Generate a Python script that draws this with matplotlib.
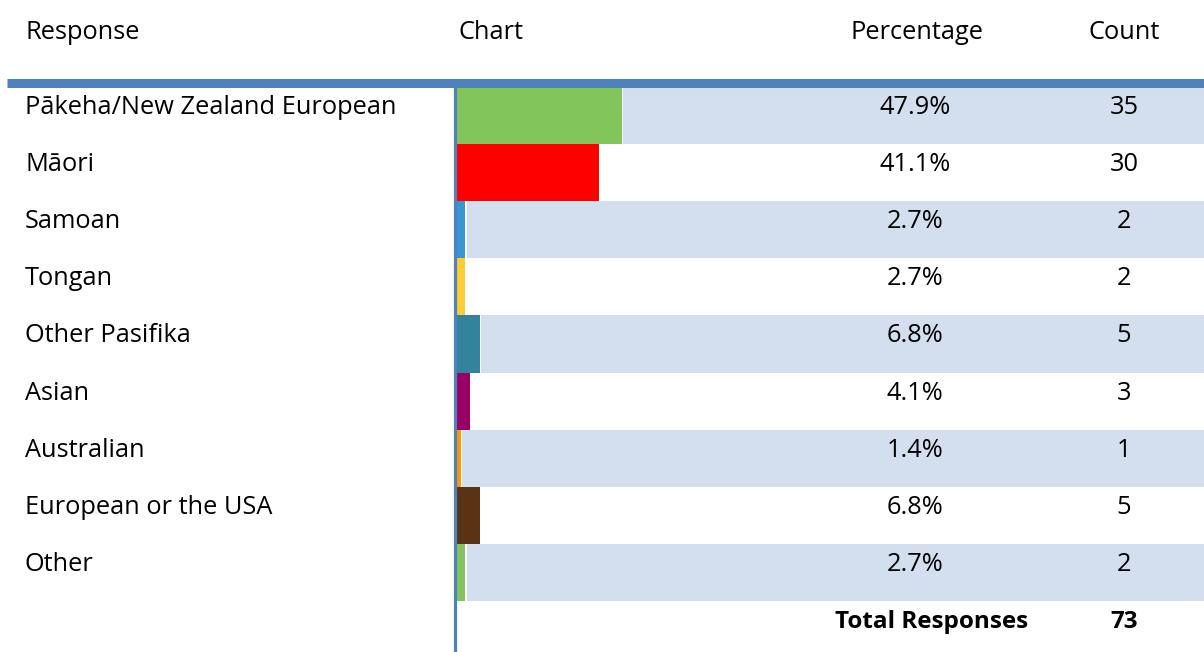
import matplotlib
matplotlib.use('Agg')
import matplotlib.pyplot as plt
from matplotlib.lines import Line2D

plt.rcParams['font.family'] = ['Open Sans', 'DejaVu Sans']

# 数据
responses = ['Pākeha/New Zealand European', 'Māori', 'Samoan', 'Tongan',
             'Other Pasifika', 'Asian', 'Australian', 'European or the USA', 'Other']
percentages = [47.9, 41.1, 2.7, 2.7, 6.8, 4.1, 1.4, 6.8, 2.7]
counts = [35, 30, 2, 2, 5, 3, 1, 5, 2]
total = 73
bar_colors = ['#82C55B', '#FF0000', '#3797D0', '#FFCC33', '#31849B',
              '#990066', '#FF9900', '#5A3214', '#82C55B']
headers = ['Response', 'Chart', 'Percentage', 'Count']

W, H = 1204, 652
fig = plt.figure(figsize=(W / 100, H / 100), dpi=100)

# 表格区域（像素坐标）
top, bottom = 87, 601
row_h = (bottom - top) / len(responses)
chart_left = 456
shade = '#D3DFEE'
line_blue = '#4F81BD'
fs = 18.3

# 图表列
ax = fig.add_axes([chart_left / W, 1 - bottom / H, 1 - chart_left / W, (bottom - top) / H])
rows = list(range(len(responses)))
xmax = (W - chart_left) / 3.47
for i in rows:
    if i % 2 == 0:
        ax.barh(i, xmax, left=percentages[i] + 0.35, height=1.0, color=shade, linewidth=0)
ax.barh(rows, percentages, height=1.0, color=bar_colors, linewidth=0)
ax.set_xlim(0, xmax)
ax.set_ylim(len(responses) - 0.5, -0.5)
ax.axis('off')

# 文字和线条叠加层
ov = fig.add_axes([0, 0, 1, 1], facecolor='none')
ov.set_xlim(0, W)
ov.set_ylim(H, 0)
ov.axis('off')

head_x = [25, 458, 917, 1124]
head_ha = ['left', 'left', 'center', 'center']
for t, x, ha in zip(headers, head_x, head_ha):
    ov.text(x, 39, t, fontsize=fs, ha=ha, va='baseline')

ov.add_line(Line2D([7, W], [82.5, 82.5], color=line_blue, linewidth=6.5, solid_capstyle='butt'))
ov.add_line(Line2D([454.5, 454.5], [87, H], color=line_blue, linewidth=2.3, solid_capstyle='butt'))

for i in rows:
    y = 114 + i * row_h
    ov.text(25, y, responses[i], fontsize=fs, ha='left', va='baseline')
    ov.text(915, y, f'{percentages[i]:.1f}%', fontsize=fs, ha='center', va='baseline')
    ov.text(1124, y, str(counts[i]), fontsize=fs, ha='center', va='baseline')

ty = 114 + len(responses) * row_h
ov.text(932, ty, 'Total Responses', fontsize=fs - 0.8, fontweight='bold', ha='center', va='baseline')
ov.text(1124, ty, str(total), fontsize=fs - 0.8, fontweight='bold', ha='center', va='baseline')

fig.savefig('out.png', dpi=100)
